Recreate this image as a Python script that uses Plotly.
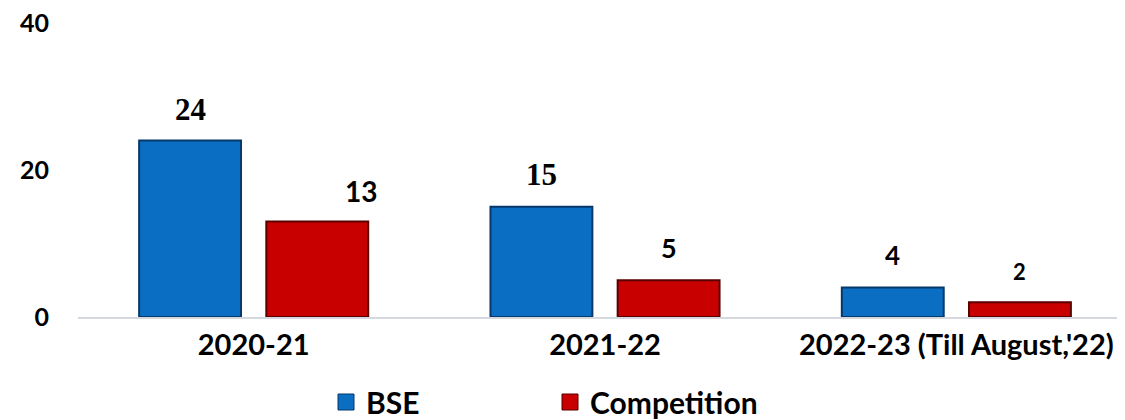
import plotly.graph_objects as go

# ---- data ----
years = ["2020-21", "2021-22", "2022-23 (Till August,'22)"]
bse = [24, 15, 4]
competition = [13, 5, 2]
y_ticks = [0, 20, 40]

# ---- styles ----
BLUE = "#0A6FC2"
BLUE_EDGE = "#06396A"
RED = "#C80000"
RED_EDGE = "#5A0000"
SERIF = "Liberation Serif"
SANS = "Lato"

W, H = 1117, 412  # page body has an 8px margin inside the 1125x420 window

BAR_W = 0.29
BSE_OFF = -0.326
CMP_OFF = 0.036

# per-label styles (font family, size, x shift px, y shift px)
bse_lbl_style = [(SERIF, 31, 0, 12), (SERIF, 31, 0, 13), (SANS, 26, 0, 15)]
cmp_lbl_style = [(SANS, 28, 44, 11), (SANS, 27, 0, 14), (SANS, 22, 0, 15)]

fig = go.Figure()
fig.add_bar(x=years, y=bse, name="BSE", offset=BSE_OFF, width=BAR_W,
            marker=dict(color=BLUE, line=dict(color=BLUE_EDGE, width=2)),
            showlegend=False)
fig.add_bar(x=years, y=competition, name="Competition", offset=CMP_OFF, width=BAR_W,
            marker=dict(color=RED, line=dict(color=RED_EDGE, width=2)),
            showlegend=False)

# legend entries
fig.add_scatter(x=[None], y=[None], mode="markers", name="BSE",
                marker=dict(symbol="square", size=16, color=BLUE,
                            line=dict(color=BLUE_EDGE, width=1)),
                legend="legend")
fig.add_scatter(x=[None], y=[None], mode="markers", name="Competition",
                marker=dict(symbol="square", size=16, color=RED,
                            line=dict(color=RED_EDGE, width=1)),
                legend="legend2")

annotations = []
for series, offs, styles in ((bse, BSE_OFF, bse_lbl_style),
                             (competition, CMP_OFF, cmp_lbl_style)):
    for i, (v, st) in enumerate(zip(series, styles)):
        fam, size, xs, ys = st
        annotations.append(dict(x=i + offs + BAR_W / 2, y=v, xref="x", yref="y",
                                text=f"<b>{v}</b>", showarrow=False,
                                yanchor="bottom", xshift=xs, yshift=ys,
                                font=dict(family=fam, size=size, color="#000000")))

legend_font = dict(family=SANS, size=30, color="#000000", weight="bold")
fig.update_layout(
    width=W, height=H,
    margin=dict(l=70, r=0, t=15, b=103),
    paper_bgcolor="white", plot_bgcolor="white",
    barmode="overlay",
    annotations=annotations,
    xaxis=dict(type="category", range=[-0.5, 2.48], showgrid=False,
               showline=True, linecolor="#D5D9DF", linewidth=2,
               ticks="", ticklabelstandoff=1,
               tickfont=dict(family=SANS, size=29, color="#000000", weight="bold")),
    yaxis=dict(range=[0, 40], tickvals=y_ticks, showgrid=False, zeroline=False,
               showline=False, ticks="", ticklabelstandoff=28,
               ticklabeloverflow="allow",
               tickfont=dict(family=SANS, size=25, color="#000000", weight="bold")),
    legend=dict(orientation="h", xref="container", yref="container",
                x=318 / W, y=1 - 394 / H, xanchor="left", yanchor="middle",
                font=legend_font, bgcolor="rgba(0,0,0,0)"),
    legend2=dict(orientation="h", xref="container", yref="container",
                 x=542 / W, y=1 - 394 / H, xanchor="left", yanchor="middle",
                 font=legend_font, bgcolor="rgba(0,0,0,0)"),
)

fig.write_html("out.html")
